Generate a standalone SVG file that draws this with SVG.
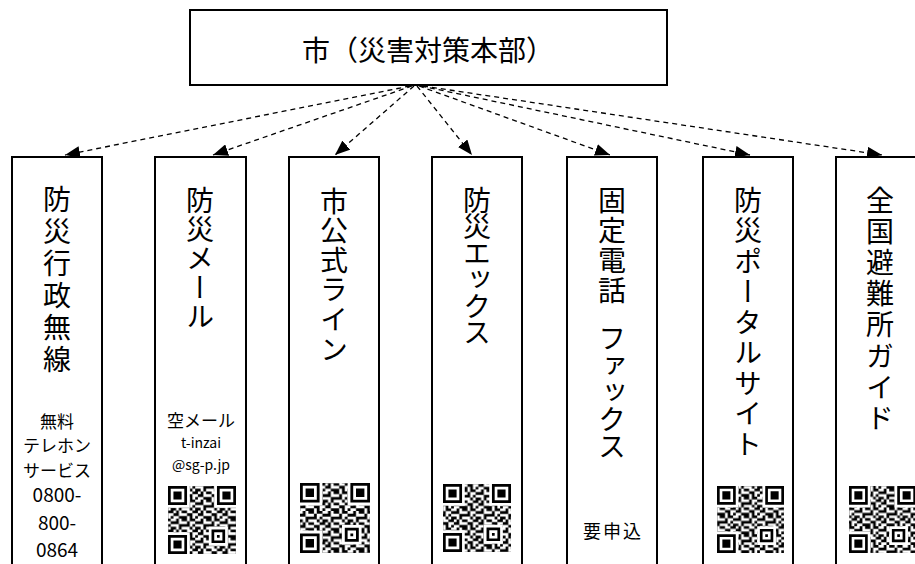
<svg xmlns="http://www.w3.org/2000/svg" xmlns:xlink="http://www.w3.org/1999/xlink" width="915" height="564" viewBox="0 0 915 564">
<style>
.box{fill:#fff;stroke:#000;stroke-width:2}
.jp{font-family:"Noto Sans CJK JP","Noto Sans",sans-serif;fill:#000}
.vt{font-size:28px;writing-mode:vertical-rl;text-anchor:start}
.sm{font-size:17px;text-anchor:middle}
.xs{font-size:14px;text-anchor:middle}
.dg{font-size:19px;text-anchor:middle}
.con{fill:none;stroke:#000;stroke-width:1.3;stroke-dasharray:5 4;marker-end:url(#ah)}
</style>
<defs>
<marker id="ah" markerUnits="userSpaceOnUse" viewBox="0 0 15 12" refX="15" refY="6" markerWidth="15" markerHeight="12" orient="auto">
<path d="M0,0 L15,6 L0,12 z" fill="#000"/>
</marker>
<pattern id="qrp" patternUnits="userSpaceOnUse" x="0" y="0" width="9" height="7">
<path fill="#000" d="M0 0h1v1h-1zM2 0h2v1h-2zM6 0h1v1h-1zM8 0h1v1h-1zM1 1h1v1h-1zM4 1h3v1h-3zM0 2h2v1h-2zM3 2h1v1h-1zM7 2h2v1h-2zM2 3h1v1h-1zM4 3h2v1h-2zM7 3h1v1h-1zM0 4h1v1h-1zM3 4h2v1h-2zM6 4h1v1h-1zM8 4h1v1h-1zM1 5h2v1h-2zM5 5h2v1h-2zM0 6h1v1h-1zM2 6h1v1h-1zM4 6h1v1h-1zM7 6h2v1h-2z"/>
</pattern>
<g id="finders">
<path fill="#fff" d="M0 0h8v8h-8zM17 0h8v8h-8zM0 17h8v8h-8zM15 15h7v7h-7z"/>
<path fill="#000" fill-rule="evenodd" d="M0 0h7v7h-7zM1 1v5h5v-5zM2 2h3v3h-3zM18 0h7v7h-7zM19 1v5h5v-5zM20 2h3v3h-3zM0 18h7v7h-7zM1 19v5h5v-5zM2 20h3v3h-3zM16 16h5v5h-5zM17 17v3h3v-3zM18 18h1v1h-1z"/>
</g>
</defs>

<g id="top">
<rect class="box" x="190" y="10" width="477" height="75"/>
<text class="jp" x="428" y="61" font-size="28" text-anchor="middle">市（災害対策本部）</text>
</g>

<g id="connectors">
<line class="con" x1="410" y1="86" x2="65" y2="155"/>
<line class="con" x1="412" y1="86" x2="213" y2="155"/>
<line class="con" x1="414" y1="86" x2="335" y2="155"/>
<line class="con" x1="417" y1="86" x2="472" y2="155"/>
<line class="con" x1="419" y1="86" x2="610" y2="155"/>
<line class="con" x1="421" y1="86" x2="750" y2="155"/>
<line class="con" x1="423" y1="86" x2="882" y2="155"/>
</g>

<g id="n1">
<rect class="box" x="12" y="157" width="90" height="420"/>
<text class="jp vt" x="57" y="185" letter-spacing="4">防災行政無線</text>
<text class="jp sm" x="57" y="428">無料</text>
<text class="jp sm" x="57" y="452">テレホン</text>
<text class="jp sm" x="57" y="477">サービス</text>
<text class="jp dg" x="57" y="502">0800-</text>
<text class="jp dg" x="57" y="530">800-</text>
<text class="jp dg" x="57" y="557">0864</text>
</g>

<g id="n2">
<rect class="box" x="155" y="157" width="91" height="420"/>
<text class="jp vt" x="200" y="186" letter-spacing="1">防災メール</text>
<text class="jp sm" x="201" y="427">空メール</text>
<text class="jp xs" x="201" y="448">t-inzai</text>
<text class="jp xs" x="201" y="470">@sg-p.jp</text>
<g transform="translate(168,486) scale(2.72)">
<rect width="25" height="25" fill="#fff"/>
<g transform="translate(-3,-2)"><rect x="3" y="2" width="25" height="25" fill="url(#qrp)"/></g>
<use xlink:href="#finders"/>
</g>
</g>

<g id="n3">
<rect class="box" x="289" y="157" width="90" height="420"/>
<text class="jp vt" x="334" y="187" letter-spacing="1.6">市公式ライン</text>
<g transform="translate(300,483) scale(2.8)">
<rect width="25" height="25" fill="#fff"/>
<g transform="translate(-5,-4)"><rect x="5" y="4" width="25" height="25" fill="url(#qrp)"/></g>
<use xlink:href="#finders"/>
</g>
</g>

<g id="n4">
<rect class="box" x="432" y="157" width="90" height="420"/>
<text class="jp vt" x="477" y="186" letter-spacing="-1.5">防災エックス</text>
<g transform="translate(443,484) scale(2.72)">
<rect width="25" height="25" fill="#fff"/>
<g transform="translate(-1,-5)"><rect x="1" y="5" width="25" height="25" fill="url(#qrp)"/></g>
<use xlink:href="#finders"/>
</g>
</g>

<g id="n5">
<rect class="box" x="567" y="157" width="90" height="420"/>
<text class="jp vt" x="612" y="186"><tspan letter-spacing="2">固定電話</tspan><tspan letter-spacing="-10">　</tspan><tspan letter-spacing="-1">ファックス</tspan></text>
<text class="jp" x="613" y="538" font-size="18" text-anchor="middle" letter-spacing="2">要申込</text>
</g>

<g id="n6">
<rect class="box" x="703" y="157" width="90" height="420"/>
<text class="jp vt" x="748" y="186" letter-spacing="2.5">防災ポータルサイト</text>
<g transform="translate(717,486) scale(2.68)">
<rect width="25" height="25" fill="#fff"/>
<g transform="translate(-7,-3)"><rect x="7" y="3" width="25" height="25" fill="url(#qrp)"/></g>
<use xlink:href="#finders"/>
</g>
</g>

<g id="n7">
<rect class="box" x="836" y="157" width="90" height="420"/>
<text class="jp vt" x="880" y="186" letter-spacing="3.2">全国避難所ガイド</text>
<g transform="translate(849,486) scale(2.68)">
<rect width="25" height="25" fill="#fff"/>
<g transform="translate(-2,-6)"><rect x="2" y="6" width="25" height="25" fill="url(#qrp)"/></g>
<use xlink:href="#finders"/>
</g>
</g>
</svg>
